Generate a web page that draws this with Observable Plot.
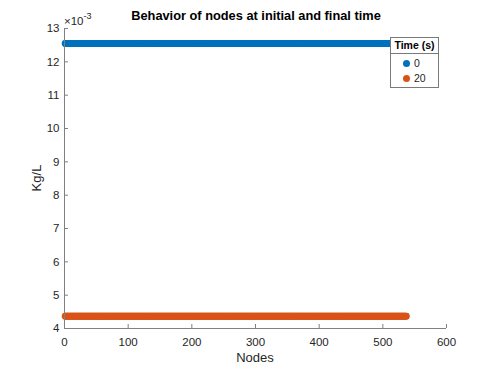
<!DOCTYPE html>
<html>
<head>
<meta charset="utf-8">
<script src="https://cdn.jsdelivr.net/npm/d3@7"></script>
<script src="https://cdn.jsdelivr.net/npm/@observablehq/plot@0.6"></script>
<style>
  html, body { margin: 0; padding: 0; background: #fff; }
  #wrap { position: relative; width: 493px; height: 370px; font-family: "Liberation Sans", Arial, sans-serif; color: #262626; }
  .abs { position: absolute; white-space: nowrap; }
  #title { left: 0; width: 512px; text-align: center; top: 8px; font-size: 12.8px; font-weight: bold; color: #000; }
  #expo { left: 64px; top: 12px; font-size: 11.5px; }
  #expo sup { font-size: 9px; position: relative; top: -1px; }
  #xlab { left: 0; width: 510px; text-align: center; top: 350px; font-size: 13px; }
  #ylab { left: 36px; top: 178px; font-size: 13px; transform: translate(-50%, -50%) rotate(-90deg); }
  #legend { left: 390px; top: 37px; width: 47px; height: 49px; border: 1px solid #7a7a7a; background: #fff; font-size: 10.5px; }
  #legend .lt { font-weight: bold; text-align: center; border-bottom: 1px solid #7a7a7a; height: 15px; line-height: 15px; color: #000; }
  #legend .it { position: relative; height: 15px; line-height: 15px; padding-left: 23px; }
  #legend .it span { position: absolute; left: 12px; top: 4px; width: 7px; height: 7px; border-radius: 50%; }
</style>
</head>
<body>
<div id="wrap">
  <div id="chart"></div>
  <div class="abs" id="title"></div>
  <div class="abs" id="expo">×10<sup>-3</sup></div>
  <div class="abs" id="xlab"></div>
  <div class="abs" id="ylab"></div>
  <div class="abs" id="legend"></div>
</div>
<script>
// ---- data ----
const titleText = "Behavior of nodes at initial and final time";
const xLabel = "Nodes";
const yLabel = "Kg/L";
const legendTitle = "Time (s)";
const seriesNames = ["0", "20"];
const seriesColors = ["#0072BD", "#D95319"];
const seriesLevels = [12.55e-3, 4.37e-3];   // concentration of every node (constant)
const nodeCount = 537;
const xTicks = [0, 100, 200, 300, 400, 500, 600];
const yTicks = [4, 5, 6, 7, 8, 9, 10, 11, 12, 13];   // ×10^-3

const nodes = d3.range(1, nodeCount + 1);
const rows = [];
seriesNames.forEach((s, i) => {
  nodes.forEach(n => rows.push({node: n, value: seriesLevels[i] * 1000, series: s}));
});

document.getElementById("title").textContent = titleText;
document.getElementById("xlab").textContent = xLabel;
document.getElementById("ylab").textContent = yLabel;
const lg = document.getElementById("legend");
lg.innerHTML = `<div class="lt">${legendTitle}</div>` +
  seriesNames.map((s, i) => `<div class="it"><span style="background:${seriesColors[i]}"></span>${s}</div>`).join("");
lg.querySelector(".it").style.marginTop = "2px";

const axisColor = "#808080";
const chart = Plot.plot({
  width: 493,
  height: 370,
  marginLeft: 64,
  marginRight: 47,
  marginTop: 28,
  marginBottom: 42,
  style: {fontFamily: "Liberation Sans, Arial, sans-serif", fontSize: "11.5px", color: "#262626", background: "#fff"},
  x: {domain: [0, 600], ticks: xTicks},
  y: {domain: [4, 13], ticks: yTicks},
  color: {domain: seriesNames, range: seriesColors},
  marks: [
    Plot.dot(rows, {x: "node", y: "value", fill: "series", r: 3.4, stroke: null}),
    Plot.tickX(xTicks, {x: d => d, stroke: axisColor, insetTop: 296}),
    Plot.tickY(yTicks, {y: d => d, stroke: axisColor, insetRight: 378}),
    Plot.ruleX([0], {stroke: axisColor}),
    Plot.ruleY([4], {stroke: axisColor}),
    Plot.axisX(xTicks, {tickSize: 0, tickPadding: 9, label: null, fill: "#262626", fontSize: 11.5}),
    Plot.axisY(yTicks, {tickSize: 0, tickPadding: 5, label: null, fill: "#262626", fontSize: 11.5})
  ]
});
document.getElementById("chart").appendChild(chart);
</script>
</body>
</html>
